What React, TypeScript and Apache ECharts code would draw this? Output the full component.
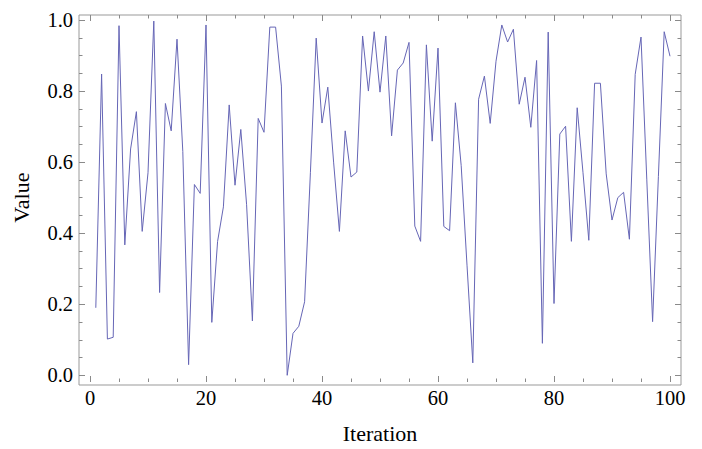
import React, { useEffect, useRef } from "react";
import * as echarts from "echarts";

const values: number[] = [
  0.19, 0.848, 0.102, 0.107, 0.984, 0.367, 0.637, 0.742, 0.405, 0.57,
  0.997, 0.233, 0.765, 0.688, 0.946, 0.63, 0.03, 0.537, 0.512, 0.986,
  0.149, 0.377, 0.474, 0.761, 0.535, 0.692, 0.48, 0.153, 0.723, 0.684,
  0.98, 0.98, 0.814, 0.0, 0.118, 0.138, 0.207, 0.57, 0.949, 0.71,
  0.811, 0.6, 0.405, 0.688, 0.558, 0.572, 0.955, 0.8, 0.967, 0.797,
  0.955, 0.674, 0.859, 0.879, 0.937, 0.42, 0.377, 0.93, 0.659, 0.921,
  0.419, 0.407, 0.767, 0.59, 0.31, 0.035, 0.777, 0.842, 0.709, 0.884,
  0.986, 0.938, 0.974, 0.763, 0.839, 0.698, 0.886, 0.09, 0.966, 0.202,
  0.679, 0.701, 0.377, 0.753, 0.57, 0.38, 0.822, 0.822, 0.567, 0.437,
  0.5, 0.515, 0.383, 0.847, 0.952, 0.55, 0.151, 0.56, 0.967, 0.898,
];

const xLabel = "Iteration";
const yLabel = "Value";

const FONT = "'Liberation Serif', 'DejaVu Serif', serif";
const TICK = "#8a8a8a";

export default function App() {
  const ref = useRef<HTMLDivElement>(null);
  useEffect(() => {
    if (!ref.current) return;
    const chart = echarts.init(ref.current, undefined, { renderer: "svg" });
    const tickCommon = {
      axisLine: { show: false, onZero: false },
      axisTick: { show: true, inside: true, length: 6, lineStyle: { color: TICK, width: 1 } },
      minorTick: { show: true, splitNumber: 4, length: 3.5, lineStyle: { color: TICK, width: 1 } },
      splitLine: { show: false },
      minorSplitLine: { show: false },
    };
    chart.setOption({
      animation: false,
      grid: [
        { left: 79, right: 21, top: 15, bottom: 64, show: true, borderColor: "#999", borderWidth: 1, backgroundColor: "transparent" },
        { left: 90, right: 32, top: 20, bottom: 70.7 },
      ],
      xAxis: [
        { gridIndex: 0, type: "value", show: false, min: 0, max: 1 },
        {
          gridIndex: 1, type: "value", min: 0, max: 100, interval: 20, position: "bottom", offset: 6.7,
          ...tickCommon,
          axisLabel: { margin: 5, fontFamily: FONT, fontSize: 20.5, color: "#000" },
          name: xLabel, nameLocation: "middle", nameGap: 40,
          nameTextStyle: { fontFamily: FONT, fontSize: 22, color: "#000" },
        },
        {
          gridIndex: 1, type: "value", min: 0, max: 100, interval: 20, position: "top", offset: 5,
          ...tickCommon,
          axisLabel: { show: false },
        },
      ],
      yAxis: [
        { gridIndex: 0, type: "value", show: false, min: 0, max: 1 },
        {
          gridIndex: 1, type: "value", min: 0, max: 1, interval: 0.2, position: "left", offset: 11,
          ...tickCommon,
          axisLabel: { margin: 6, fontFamily: FONT, fontSize: 20.5, color: "#000", formatter: (v: number) => v.toFixed(1) },
          name: yLabel, nameLocation: "middle", nameGap: 47,
          nameTextStyle: { fontFamily: FONT, fontSize: 22, color: "#000" },
        },
        {
          gridIndex: 1, type: "value", min: 0, max: 1, interval: 0.2, position: "right", offset: 11,
          ...tickCommon,
          axisLabel: { show: false },
        },
      ],
      series: [
        {
          type: "line",
          xAxisIndex: 1,
          yAxisIndex: 1,
          data: values.map((v, i) => [i + 1, v]),
          showSymbol: false,
          lineStyle: { color: "#6666b6", width: 1 },
          clip: false,
        },
      ],
    });
    return () => chart.dispose();
  }, []);
  return <div ref={ref} style={{ width: 702, height: 449, position: "absolute", left: 0, top: 0 }} />;
}
